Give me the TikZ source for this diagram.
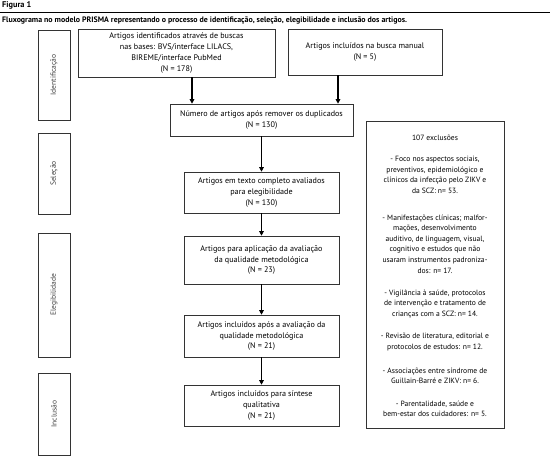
\documentclass[tikz,border=0pt]{standalone}
\usepackage{fontspec}
\setmainfont{PT Sans}
\usetikzlibrary{arrows.meta}
\begin{document}
\begin{tikzpicture}[x=1pt,y=-1pt,
  box/.style={draw=black!80, line width=0.6pt, align=center, inner sep=0pt,
    font=\fontsize{8.1}{10.8}\selectfont},
  stage/.style={draw=black!80, line width=0.6pt, inner sep=0pt, minimum width=32pt},
  stagetext/.style={rotate=90, font=\fontsize{7.5}{9}\selectfont, text=black!75},
  extext/.style={align=center, inner sep=0pt, font=\fontsize{7.6}{10.6}\selectfont},
  arr/.style={-{Triangle[width=4.5pt,length=4.5pt]}, line width=1.3pt}]
\useasboundingbox (0,0) rectangle (550,459);
% header
\node[anchor=west, inner sep=0pt, font=\fontsize{8.3}{9}\selectfont\bfseries] (fig) at (2,5) {Figura 1};
\coordinate (r1) at (0,12);
\coordinate (r2) at (550,12);
\draw[line width=0.8pt] (r1) -- (r2);
\node[anchor=west, inner sep=0pt, font=\fontsize{7.9}{9}\selectfont\bfseries] (cap) at (2,20)
  {Fluxograma no modelo PRISMA representando o processo de identificação, seleção, elegibilidade e inclusão dos artigos.};
% stage boxes
\node[stage, minimum height=90pt] (S1) at (54,75) {};
\node[stagetext] (T1) at (S1.center) {Identificação};
\node[stage, minimum height=81pt] (S2) at (54,173.5) {};
\node[stagetext] (T2) at (S2.center) {Seleção};
\node[stage, minimum height=124pt] (S3) at (54,295) {};
\node[stagetext] (T3) at (S3.center) {Elegibilidade};
\node[stage, minimum height=82pt] (S4) at (54,414) {};
\node[stagetext] (T4) at (S4.center) {Inclusão};
% main boxes
\node[box, minimum width=197pt, minimum height=48pt] (A) at (176.5,53)
  {Artigos identificados através de buscas\\nas bases: BVS/interface LILACS,\\BIREME/interface PubMed\\(N = 178)};
\node[box, minimum width=154pt, minimum height=46pt] (B) at (365,52)
  {Artigos incluídos na busca manual\\(N = 5)};
\node[box, minimum width=183pt, minimum height=32pt] (C) at (261.5,120)
  {Número de artigos após remover os duplicados\\(N = 130)};
\node[box, minimum width=155pt, minimum height=41pt] (D) at (261.5,192.5)
  {Artigos em texto completo avaliados\\para elegibilidade\\(N = 130)};
\node[box, minimum width=155pt, minimum height=48pt] (E) at (261.5,260)
  {Artigos para aplicação da avaliação\\da qualidade metodológica\\(N = 23)};
\node[box, minimum width=155pt, minimum height=42pt] (F) at (261.5,336)
  {Artigos incluídos após a avaliação da\\qualidade metodológica\\(N = 21)};
\node[box, minimum width=155pt, minimum height=41pt] (G) at (261.5,405.5)
  {Artigos incluídos para síntese\\qualitativa\\(N = 21)};
% exclusion box
\node[box, minimum width=138pt, minimum height=307pt] (X) at (435,274.5) {};
\node[extext] (x0) at (435,138) {107 exclusões};
\node[extext] (x1) at (435,175) {- Foco nos aspectos sociais,\\preventivos, epidemiológico e\\clínicos da infecção pelo ZIKV e\\da SCZ: n= 53.};
\node[extext] (x2) at (435,244) {- Manifestações clínicas; malfor-\\mações, desenvolvimento\\auditivo, de linguagem, visual,\\cognitivo e estudos que não\\usaram instrumentos padroniza-\\dos: n= 17.};
\node[extext] (x3) at (435,304) {- Vigilância à saúde, protocolos\\de intervenção e tratamento de\\crianças com a SCZ: n= 14.};
\node[extext] (x4) at (435,342) {- Revisão de literatura, editorial e\\protocolos de estudos: n= 12.};
\node[extext] (x5) at (435,376) {- Associações entre síndrome de\\Guillain-Barré e ZIKV: n= 6.};
\node[extext] (x6) at (435,409) {- Parentalidade, saúde e\\bem-estar dos cuidadores: n= 5.};
% arrows
\coordinate (ca) at (192,0);
\coordinate (cb) at (338,0);
\draw[arr] (ca |- A.south) -- (ca |- C.north);
\draw[arr] (cb |- B.south) -- (cb |- C.north);
\draw[arr] (C.south) -- (D.north);
\draw[arr] (D.south) -- (E.north);
\draw[arr] (E.south) -- (F.north);
\draw[arr] (F.south) -- (G.north);
\end{tikzpicture}
\end{document}
